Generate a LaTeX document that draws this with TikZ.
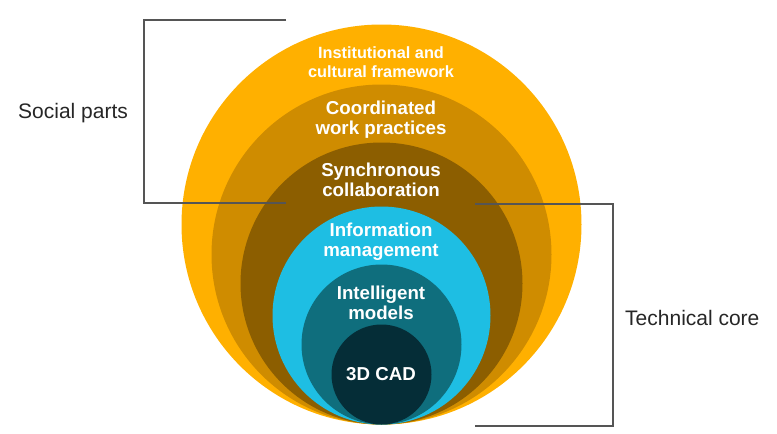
\documentclass[tikz,border=0pt]{standalone}
\usepackage{fontspec}
\setmainfont{Liberation Sans}
\definecolor{ringA}{RGB}{255,176,0}
\definecolor{ringB}{RGB}{207,140,0}
\definecolor{ringC}{RGB}{140,94,0}
\definecolor{ringD}{RGB}{30,190,227}
\definecolor{ringE}{RGB}{15,110,125}
\definecolor{ringF}{RGB}{5,45,55}
\definecolor{brk}{RGB}{85,85,85}
\tikzset{
  ringtxt/.style={text=white,font=\bfseries\fontsize{18.7}{20}\selectfont,align=center,inner sep=0pt},
  outertxt/.style={text=white,font=\bfseries\fontsize{16.3}{18.5}\selectfont,align=center,inner sep=0pt},
  sidetxt/.style={text=black!85,font=\fontsize{21}{23}\selectfont,inner sep=0pt,anchor=west},
  bracket/.style={draw=brk,line width=1.3pt}
}
\begin{document}
\begin{tikzpicture}[x=1pt,y=-1pt]
\useasboundingbox (0,0) rectangle (777,434);
% rings
\fill[ringA] (381.5,224.5) circle[radius=200pt];
\fill[ringB] (381.5,254.5) circle[radius=170pt];
\fill[ringC] (381.5,283.5) circle[radius=141pt];
\fill[ringD] (381.5,315.5) circle[radius=109pt];
\fill[ringE] (381.5,344.5) circle[radius=80pt];
\fill[ringF] (381.5,374.5) circle[radius=50pt];
% texts
\node[outertxt] (inst) at (381,62) {Institutional and\\cultural framework};
\node[ringtxt] (coord) at (381,120) {Coordinated\\work practices};
\node[ringtxt] (sync) at (381,180) {Synchronous\\collaboration};
\node[ringtxt] (info) at (381,242) {Information\\management};
\node[ringtxt] (intel) at (381,303) {Intelligent\\models};
\node[ringtxt] (cad) at (381,374) {3D CAD};
% labels
\node[sidetxt] (social) at (18,113) {Social parts};
\node[sidetxt] (tech) at (625,318) {Technical core};
% brackets
\coordinate (s1) at (286,20);
\coordinate (s2) at (144,20);
\coordinate (s3) at (144,203);
\coordinate (s4) at (286,203);
\draw[bracket] (s1) -- (s2) -- (s3) -- (s4);
\coordinate (t1) at (475,204);
\coordinate (t2) at (613,204);
\coordinate (t3) at (613,426);
\coordinate (t4) at (475,426);
\draw[bracket] (t1) -- (t2) -- (t3) -- (t4);
\end{tikzpicture}
\end{document}
